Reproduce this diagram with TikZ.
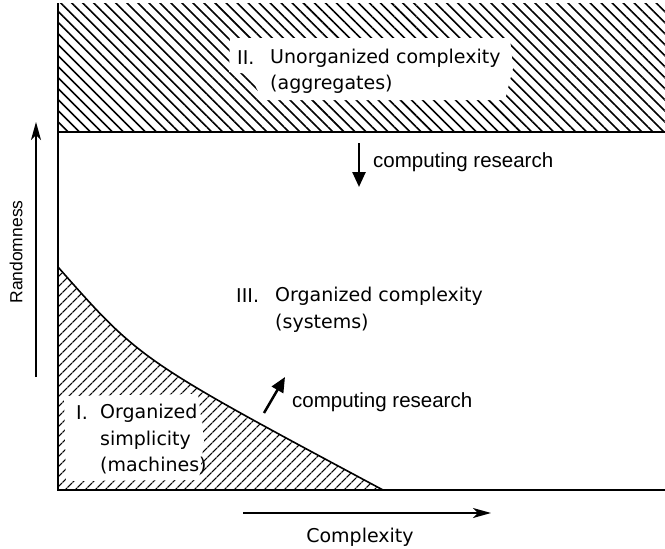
\documentclass[tikz,border=0pt]{standalone}
\usepackage{fontspec}
\setmainfont{DejaVu Sans}
\newfontfamily\arialfont{Liberation Sans}
\usetikzlibrary{patterns.meta,arrows.meta}
\begin{document}
\begin{tikzpicture}[x=1pt,y=-1pt,
  lab/.style={font=\fontsize{19}{22}\selectfont, inner sep=0pt, anchor=west},
  cr/.style={font=\arialfont\fontsize{20.5}{24}\selectfont, inner sep=0pt, anchor=west},
  bound/.style={line width=1.6pt},
  bigarrow/.style={line width=2.5pt, -{Triangle[length=15pt,width=13pt]}},
  axisarrow/.style={line width=1.4pt, -{Stealth[length=18pt,width=10pt,inset=5pt]}}]
\useasboundingbox (0,0) rectangle (665,549);
% hatched regions
\fill[pattern={Lines[angle=-45,distance=7.8pt,line width=1.6pt]}] (58,3) rectangle (665,132);
\fill[pattern={Lines[angle=45,distance=7.4pt,line width=1.5pt]}]
  (58,267) .. controls (140,360) .. (383,490) -- (58,490) -- cycle;
% white patches behind labels
\fill[white] (230,38) -- (510,38) -- (513,68) -- (505,100) -- (262,100) -- (250,74) -- (229,72) -- cycle;
\fill[white] (64,396) -- (198,394) -- (204,440) -- (199,480) -- (66,481) -- cycle;
% boundaries
\draw[bound] (58,3) coordinate (tl) -- (58,490) coordinate (o) -- (665,490) coordinate (br);
\draw[bound] (58,132) coordinate (ml) -- (665,132) coordinate (mr);
\draw[bound] (58,267) coordinate (cs) .. controls (140,360) .. (383,490) coordinate (ce);
% axes
\coordinate (ya) at (36,377); \coordinate (yb) at (36,122);
\draw[axisarrow] (ya) -- (yb);
\node[font=\arialfont\fontsize{17.5}{20}\selectfont, rotate=90, inner sep=0pt] (rand) at (16,252) {Randomness};
\coordinate (xa) at (243,513); \coordinate (xb) at (491,513);
\draw[axisarrow] (xa) -- (xb);
\node[font=\fontsize{19}{22}\selectfont, inner sep=0pt] (cplx) at (360,537) {Complexity};
% labels
\node[lab] (n2) at (237,58) {II.};
\node[lab] (t2a) at (270,58) {Unorganized complexity};
\node[lab] (t2b) at (270,84) {(aggregates)};
\node[lab] (n3) at (236,296) {III.};
\node[lab] (t3a) at (275,296) {Organized complexity};
\node[lab] (t3b) at (275,323) {(systems)};
\node[lab] (n1) at (76,413) {I.};
\node[lab] (t1a) at (100,413) {Organized};
\node[lab] (t1b) at (100,440) {simplicity};
\node[lab] (t1c) at (100,466) {(machines)};
% computing research arrows
\coordinate (da) at (359,143); \coordinate (db) at (359,187);
\draw[bigarrow] (da) -- (db);
\node[cr] (cr1) at (373,162) {computing research};
\coordinate (ua) at (264,413); \coordinate (ub) at (285,377);
\draw[bigarrow] (ua) -- (ub);
\node[cr] (cr2) at (292,402) {computing research};
\end{tikzpicture}
\end{document}
